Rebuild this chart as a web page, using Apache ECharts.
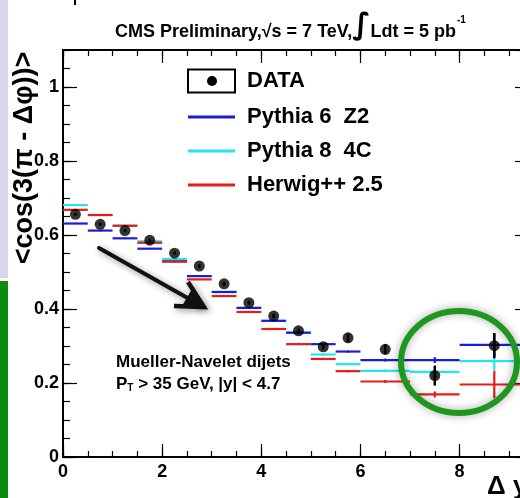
<!DOCTYPE html>
<html>
<head>
<meta charset="utf-8">
<script src="https://cdn.jsdelivr.net/npm/echarts@6/dist/echarts.min.js"></script>
<style>
  html, body { margin: 0; padding: 0; background: #ffffff; }
  #chart { width: 520px; height: 498px; }
</style>
</head>
<body>
<div id="chart"></div>
<script>
// Rapidity-interval bins (Δy)
const binLow  = [0, 0.5, 1, 1.5, 2, 2.5, 3, 3.5, 4, 4.5, 5, 5.5, 6, 7, 8];
const binHigh = [0.5, 1, 1.5, 2, 2.5, 3, 3.5, 4, 4.5, 5, 5.5, 6, 7, 8, 9.4];

// <cos(3(π - Δφ))> measured in data
const dataValues = [0.656, 0.629, 0.612, 0.586, 0.551, 0.516, 0.468, 0.417, 0.381, 0.341, 0.298, 0.322, 0.291, 0.220, 0.301];
const dataErrors = [0.004, 0.004, 0.004, 0.004, 0.004, 0.005, 0.005, 0.005, 0.006, 0.006, 0.007, 0.012, 0.014, 0.027, 0.034];

// Generator predictions
const pythia6Values = [0.631, 0.612, 0.591, 0.563, 0.529, 0.489, 0.446, 0.403, 0.368, 0.336, 0.305, 0.285, 0.262, 0.262, 0.303];
const pythia6Errors = [0.002, 0.002, 0.002, 0.002, 0.002, 0.002, 0.002, 0.002, 0.002, 0.003, 0.003, 0.003, 0.004, 0.008, 0.030];
const pythia8Values = [0.681, 0.654, 0.625, 0.583, 0.535, 0.489, 0.446, 0.403, 0.368, 0.336, 0.277, 0.251, 0.233, 0.230, 0.259];
const pythia8Errors = [0.002, 0.002, 0.002, 0.002, 0.002, 0.002, 0.002, 0.002, 0.002, 0.003, 0.003, 0.003, 0.004, 0.008, 0.025];
const herwigValues  = [0.668, 0.654, 0.625, 0.579, 0.528, 0.480, 0.435, 0.392, 0.346, 0.305, 0.265, 0.232, 0.204, 0.169, 0.196];
const herwigErrors  = [0.002, 0.002, 0.002, 0.002, 0.002, 0.002, 0.002, 0.002, 0.002, 0.003, 0.003, 0.003, 0.004, 0.008, 0.037];

const seriesNames = ['DATA', 'Pythia 6  Z2', 'Pythia 8  4C', 'Herwig++ 2.5'];
const xTickStep = 2, xMinorStep = 0.5;
const yTickStep = 0.2, yMinorStep = 0.05;

const FONT = '"Liberation Sans", Arial, Helvetica, sans-serif';
const BLUE = '#1c1cd8', CYAN = '#22e6f2', RED = '#e81c16';

const chart = echarts.init(document.getElementById('chart'), null, { renderer: 'canvas' });

function binRows(values, errors) {
  return binLow.map((lo, i) => [lo, binHigh[i], values[i], errors[i]]);
}

// Horizontal bar across the bin plus a vertical error bar at its centre
function stepRenderer(color) {
  return function (params, api) {
    const lo = api.value(0), hi = api.value(1), v = api.value(2), e = api.value(3);
    const mid = (lo + hi) / 2;
    const a = api.coord([lo, v]), b = api.coord([hi, v]);
    const t = api.coord([mid, v + e]), u = api.coord([mid, v - e]);
    return {
      type: 'group',
      children: [
        { type: 'line', shape: { x1: a[0], y1: a[1], x2: b[0], y2: b[1] }, style: { stroke: color, lineWidth: 2.2 } },
        { type: 'line', shape: { x1: t[0], y1: t[1], x2: u[0], y2: u[1] }, style: { stroke: color, lineWidth: 2.2 } }
      ]
    };
  };
}

function errorRenderer(params, api) {
  const x = api.value(0), v = api.value(1), e = api.value(2);
  const t = api.coord([x, v + e]), u = api.coord([x, v - e]);
  return { type: 'line', shape: { x1: t[0], y1: t[1], x2: u[0], y2: u[1] }, style: { stroke: '#000', lineWidth: 2.5 } };
}

const centres = binLow.map((lo, i) => (lo + binHigh[i]) / 2);

function xAxisDef(position, step, len, labels) {
  return {
    type: 'value', position: position, min: 0, max: 9.4, interval: step,
    axisLine: { show: true, onZero: false, lineStyle: { color: '#000', width: 1.5 } },
    axisTick: { show: true, inside: true, length: len, lineStyle: { color: '#000', width: 1.2 } },
    axisLabel: labels ? { show: true, showMaxLabel: false, margin: 6, color: '#000', fontSize: 18, fontWeight: 'bold', fontFamily: FONT } : { show: false },
    splitLine: { show: false }
  };
}
function yAxisDef(position, step, len, labels) {
  return {
    type: 'value', position: position, min: 0, max: 1.1, interval: step,
    axisLine: { show: true, onZero: false, lineStyle: { color: '#000', width: 1.5 } },
    axisTick: { show: true, inside: true, length: len, lineStyle: { color: '#000', width: 1.2 } },
    axisLabel: labels ? { show: true, showMaxLabel: false, margin: 4, color: '#000', fontSize: 18, fontWeight: 'bold', fontFamily: FONT } : { show: false },
    splitLine: { show: false }
  };
}

const legendY = [81, 117, 151, 185];
const legendColors = [null, BLUE, CYAN, RED];
const legendGraphics = [];
legendGraphics.push({ type: 'rect', shape: { x: 188, y: 69.5, width: 47, height: 23 }, style: { fill: '#fff', stroke: '#000', lineWidth: 2 }, z: 100 });
legendGraphics.push({ type: 'circle', shape: { cx: 212, cy: 81, r: 5 }, style: { fill: '#000' }, z: 101 });
for (let i = 1; i < 4; i++) {
  legendGraphics.push({ type: 'line', shape: { x1: 188, y1: legendY[i], x2: 235, y2: legendY[i] }, style: { stroke: legendColors[i], lineWidth: 3 }, z: 100 });
}
seriesNames.forEach((name, i) => {
  legendGraphics.push({ type: 'text', x: 247, y: legendY[i], style: { text: name, fill: '#000', font: 'bold 22px ' + FONT, verticalAlign: 'middle' }, z: 100 });
});

const option = {
  animation: false,
  backgroundColor: '#ffffff',
  title: {
    left: 110, top: 10,
    text: '{a|CMS Preliminary,√s = 7 TeV,}{i|∫}{a|Ldt = 5 pb}{s|-1}',
    textStyle: {
      rich: {
        a: { fontSize: 18, fontWeight: 'bold', fontFamily: FONT, color: '#000', verticalAlign: 'bottom', lineHeight: 26 },
        i: { fontSize: 30, fontFamily: '"DejaVu Sans", sans-serif', color: '#000', verticalAlign: 'bottom', lineHeight: 26 },
        s: { fontSize: 10, fontWeight: 'bold', fontFamily: FONT, color: '#000', verticalAlign: 'top', lineHeight: 26, padding: [0, 0, 10, 1] }
      }
    }
  },
  grid: { left: 63, top: 50, width: 466, height: 407, show: true, borderColor: '#000', borderWidth: 1.5, containLabel: false, outerBoundsMode: 'none' },
  xAxis: [
    xAxisDef('bottom', xTickStep, 13, true),
    xAxisDef('bottom', xMinorStep, 6, false),
    xAxisDef('top', xTickStep, 13, false),
    xAxisDef('top', xMinorStep, 6, false)
  ],
  yAxis: [
    yAxisDef('left', yTickStep, 14, true),
    yAxisDef('left', yMinorStep, 7, false),
    yAxisDef('right', yTickStep, 14, false),
    yAxisDef('right', yMinorStep, 7, false)
  ],
  series: [
    { name: seriesNames[2], type: 'custom', renderItem: stepRenderer(CYAN), data: binRows(pythia8Values, pythia8Errors), encode: { x: [0, 1], y: 2 }, z: 2 },
    { name: seriesNames[1], type: 'custom', renderItem: stepRenderer(BLUE), data: binRows(pythia6Values, pythia6Errors), encode: { x: [0, 1], y: 2 }, z: 3 },
    { name: seriesNames[3], type: 'custom', renderItem: stepRenderer(RED), data: binRows(herwigValues, herwigErrors), encode: { x: [0, 1], y: 2 }, z: 4 },
    { name: 'DATA errors', type: 'custom', renderItem: errorRenderer, data: centres.map((c, i) => [c, dataValues[i], dataErrors[i]]), encode: { x: 0, y: 1 }, z: 5 },
    { name: seriesNames[0], type: 'scatter', symbol: 'circle', symbolSize: 11, itemStyle: { color: '#000' }, data: centres.map((c, i) => [c, dataValues[i]]), z: 6 }
  ],
  graphic: [
    // slide side strips
    { type: 'rect', shape: { x: 0, y: 0, width: 8, height: 278 }, style: { fill: '#d6d6f0' }, z: 0 },
    { type: 'rect', shape: { x: 0, y: 281, width: 8, height: 217 }, style: { fill: '#0b8a0b' }, z: 0 },
    { type: 'line', shape: { x1: 75, y1: 0, x2: 75, y2: 5 }, style: { stroke: '#000', lineWidth: 2 } },
    // vertical axis title
    { type: 'text', x: 25, y: 158, rotation: Math.PI / 2, style: { text: '<cos(3(π - Δφ))>', fill: '#000', font: 'bold 27px ' + FONT, align: 'center', verticalAlign: 'middle' } },
    // horizontal axis title
    { type: 'text', x: 487, y: 474, style: { text: 'Δ y', fill: '#000', font: 'bold 26px ' + FONT } },
    // selection text
    { type: 'text', x: 116, y: 362, style: { text: 'Mueller-Navelet dijets', fill: '#000', font: 'bold 17px ' + FONT, verticalAlign: 'middle' }, z: 50 },
    { type: 'text', x: 116, y: 384, style: {
        text: '{a|P}{b|T}{a| > 35 GeV, |y| < 4.7}',
        verticalAlign: 'middle',
        rich: {
          a: { font: 'bold 17px ' + FONT, fill: '#000', verticalAlign: 'middle' },
          b: { font: 'bold 10px ' + FONT, fill: '#000', verticalAlign: 'bottom', padding: [8, 0, 0, 0] }
        }
      }, z: 50 },
    // arrow with drop shadow
    { type: 'group', z: 60, children: [
      { type: 'line', shape: { x1: 99, y1: 248, x2: 200, y2: 305 }, style: { stroke: '#111', lineWidth: 4, lineCap: 'round', shadowBlur: 6, shadowColor: 'rgba(0,0,0,0.45)', shadowOffsetX: 2, shadowOffsetY: 2 } },
      { type: 'polyline', shape: { points: [[174, 306], [204, 307], [188, 282]] }, style: { stroke: '#111', lineWidth: 4.5, fill: null, lineJoin: 'miter', shadowBlur: 6, shadowColor: 'rgba(0,0,0,0.45)', shadowOffsetX: 2, shadowOffsetY: 2 } },
      { type: 'polygon', shape: { points: [[204, 307], [182, 306], [192, 289]] }, style: { fill: '#111' } }
    ] },
    // highlight ring
    { type: 'ellipse', shape: { cx: 459, cy: 362, rx: 58, ry: 51 }, style: { fill: null, stroke: '#1f961f', lineWidth: 6, shadowBlur: 8, shadowColor: 'rgba(0,0,0,0.35)' }, z: 80 }
  ].concat(legendGraphics)
};

chart.setOption(option);
</script>
</body>
</html>
